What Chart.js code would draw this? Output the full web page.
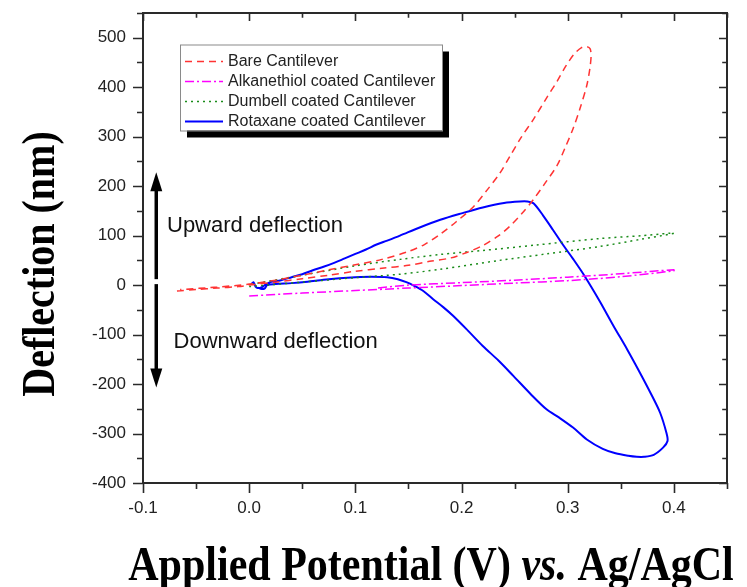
<!DOCTYPE html>
<html>
<head>
<meta charset="utf-8">
<script src="https://cdn.jsdelivr.net/npm/chart.js@4.4.1/dist/chart.umd.min.js"></script>
<style>
  html, body { margin: 0; padding: 0; background: #fff; }
  #wrap { width: 747px; height: 587px; }
</style>
</head>
<body>
<div id="wrap"><canvas id="c" width="747" height="587"></canvas></div>
<script>
// ---- data: deflection (nm) vs applied potential (V vs. Ag/AgCl) ----
const seriesNames = [
  'Bare Cantilever',
  'Alkanethiol coated Cantilever',
  'Dumbell coated Cantilever',
  'Rotaxane coated Cantilever'
];

// bare cantilever: forward sweep (lower branch) then return (upper branch)
const bareX = [-0.068, -0.05, -0.03, -0.01, 0.0, 0.025, 0.05, 0.075, 0.1, 0.125, 0.15, 0.17, 0.19, 0.205, 0.22, 0.235, 0.246, 0.257, 0.268, 0.279, 0.29, 0.298, 0.305, 0.312, 0.318, 0.321, 0.322, 0.321, 0.318,
  0.313, 0.306, 0.298, 0.29, 0.28, 0.268, 0.256, 0.246, 0.236, 0.224, 0.211, 0.195, 0.18, 0.165, 0.15, 0.125, 0.1, 0.075, 0.05, 0.025, 0.0, -0.03, -0.065];
const bareY = [-12, -9, -6, -3, 0, 6, 13, 20, 28, 34, 40, 48, 55, 66, 80, 100, 120, 145, 174, 207, 242, 280, 316, 360, 404, 440, 465, 478, 482,
  480, 467, 442, 412, 378, 336, 298, 262, 226, 192, 158, 128, 103, 82, 68, 52, 41, 31, 20, 10, 2, -4, -9];

// alkanethiol coated
const alkX = [0.0, 0.05, 0.1, 0.15, 0.2, 0.25, 0.3, 0.35, 0.4, 0.4, 0.35, 0.3, 0.25, 0.2, 0.15, 0.12];
const alkY = [-22, -16, -11, -6, -1, 4, 9, 17, 29, 31, 23, 16, 10, 5, 0, -6];

// dumbell coated
const dumX = [0.0, 0.05, 0.1, 0.142, 0.18, 0.236, 0.28, 0.33, 0.37, 0.4, 0.37, 0.33, 0.27, 0.22, 0.18, 0.142, 0.1, 0.05, 0.0];
const dumY = [-3, 6, 15, 22, 32, 50, 63, 78, 93, 105, 100, 94, 81, 70, 62, 52, 39, 20, 1];

// rotaxane coated
const rotX = [0.002, 0.004, 0.006, 0.008, 0.012, 0.016, 0.02, 0.03, 0.04, 0.05, 0.06, 0.07, 0.08, 0.09, 0.1, 0.11, 0.12, 0.13, 0.142, 0.16, 0.18, 0.2, 0.22, 0.24, 0.255, 0.262, 0.268,
  0.277, 0.286, 0.296, 0.305, 0.316, 0.33, 0.343, 0.356, 0.368, 0.378, 0.387, 0.393, 0.394, 0.39, 0.381, 0.372, 0.365, 0.357, 0.345, 0.333, 0.318, 0.305, 0.292, 0.28, 0.265, 0.249, 0.235, 0.22, 0.206, 0.192, 0.183, 0.173, 0.164, 0.155,
  0.148, 0.14, 0.13, 0.115, 0.1, 0.085, 0.07, 0.055, 0.04, 0.025, 0.017, 0.015, 0.012, 0.008];
const rotY = [2, 6, -3, -6, -4, 2, 6, 10, 16, 22, 30, 37, 45, 54, 63, 72, 82, 90, 100, 116, 132, 145, 157, 166, 169, 169, 165,
  140, 112, 80, 53, 18, -32, -82, -130, -177, -218, -258, -299, -315, -328, -343, -347, -347, -345, -340, -331, -312, -288, -268, -251, -220, -184, -153, -123, -92, -62, -45, -28, -12, -1,
  6, 12, 16, 17, 16, 14, 11, 7, 4, 2, 0, -6, -8, -5];

// axis ticks
const xTicks = [-0.1, 0.0, 0.1, 0.2, 0.3, 0.4];
const xMinor = [-0.05, 0.05, 0.15, 0.25, 0.35, 0.45];
const yTicks = [-400, -300, -200, -100, 0, 100, 200, 300, 400, 500];
const yMinor = [-350, -250, -150, -50, 50, 150, 250, 350, 450, 550];

const pts = (xs, ys) => xs.map((x, i) => ({ x: x, y: ys[i] }));

const SANS = "'Liberation Sans', Arial, sans-serif";
const SERIF = "'Liberation Serif', 'Times New Roman', serif";

// frame, tick marks, legend, annotations and axis titles
const decorations = {
  id: 'decorations',
  afterDraw(chart) {
    const ctx = chart.ctx;
    const a = chart.chartArea;
    const xs = chart.scales.x, ys = chart.scales.y;
    ctx.save();

    // frame
    ctx.strokeStyle = '#2a2a2a';
    ctx.lineWidth = 2;
    ctx.strokeRect(a.left, a.top, a.right - a.left, a.bottom - a.top);

    // tick marks: outward on bottom/left, mirrored inward on top/right
    ctx.lineWidth = 1.6;
    ctx.beginPath();
    const xt = (vals, len) => vals.forEach(v => {
      const p = Math.round(xs.getPixelForValue(v)) + 0.5;
      ctx.moveTo(p, a.bottom); ctx.lineTo(p, a.bottom + len);
      ctx.moveTo(p, a.top); ctx.lineTo(p, a.top + len * 0.8);
    });
    const yt = (vals, len) => vals.forEach(v => {
      const p = Math.round(ys.getPixelForValue(v)) + 0.5;
      ctx.moveTo(a.left, p); ctx.lineTo(a.left - len, p);
      ctx.moveTo(a.right, p); ctx.lineTo(a.right - len * 0.8, p);
    });
    xt(xTicks, 10); xt(xMinor, 6);
    yt(yTicks, 10); yt(yMinor, 6);
    ctx.stroke();

    // legend box with drop shadow
    const lx = a.left + 37, ly = a.top + 31.5, lw = 262, lh = 86;
    ctx.fillStyle = '#000';
    ctx.fillRect(lx + 7, ly + 7, lw, lh);
    ctx.fillStyle = '#fff';
    ctx.fillRect(lx, ly, lw, lh);
    ctx.strokeStyle = '#8a8a8a';
    ctx.lineWidth = 1;
    ctx.strokeRect(lx + 0.5, ly + 0.5, lw, lh);
    ctx.font = '16px ' + SANS;
    ctx.textBaseline = 'middle';
    ctx.textAlign = 'left';
    chart.data.datasets.forEach((ds, i) => {
      const ry = ly + 17 + i * 20;
      ctx.strokeStyle = ds.borderColor;
      ctx.lineWidth = ds.borderWidth;
      ctx.setLineDash(ds.borderDash || []);
      ctx.beginPath();
      ctx.moveTo(lx + 5, ry); ctx.lineTo(lx + 43, ry);
      ctx.stroke();
      ctx.setLineDash([]);
      ctx.fillStyle = '#222';
      ctx.fillText(ds.label, lx + 48, ry);
    });

    // double arrow marking the deflection direction
    const ax = xs.getPixelForValue(-0.0875);
    const arrow = (y0, y1) => {
      const p0 = ys.getPixelForValue(y0), p1 = ys.getPixelForValue(y1);
      const dir = p1 < p0 ? -1 : 1;
      ctx.strokeStyle = '#000';
      ctx.lineWidth = 3.5;
      ctx.beginPath();
      ctx.moveTo(ax, p0); ctx.lineTo(ax, p1 - dir * 14);
      ctx.stroke();
      ctx.fillStyle = '#000';
      ctx.beginPath();
      ctx.moveTo(ax, p1);
      ctx.lineTo(ax - 6, p1 - dir * 19);
      ctx.lineTo(ax + 6, p1 - dir * 19);
      ctx.closePath();
      ctx.fill();
    };
    arrow(12, 228);
    arrow(2, -207);

    ctx.fillStyle = '#111';
    ctx.font = '22px ' + SANS;
    ctx.textBaseline = 'middle';
    ctx.fillText('Upward deflection', xs.getPixelForValue(-0.0774), ys.getPixelForValue(120));
    ctx.fillText('Downward deflection', xs.getPixelForValue(-0.0712), ys.getPixelForValue(-115));

    // axis titles
    ctx.fillStyle = '#000';
    ctx.textBaseline = 'alphabetic';
    ctx.textAlign = 'center';
    ctx.save();
    ctx.translate(54, 264);
    ctx.rotate(-Math.PI / 2);
    ctx.scale(1, 1.18);
    ctx.font = 'bold 40px ' + SERIF;
    ctx.fillText('Deflection (nm)', 0, 0);
    ctx.restore();

    ctx.save();
    ctx.translate(0, 580);
    ctx.scale(1, 1.18);
    const parts = [
      ['Applied Potential (V) ', 'bold 42px ' + SERIF],
      ['vs.', 'italic bold 42px ' + SERIF],
      [' Ag/AgCl', 'bold 42px ' + SERIF]
    ];
    let total = 0;
    parts.forEach(p => { ctx.font = p[1]; total += ctx.measureText(p[0]).width; });
    let tx = 431 - total / 2;
    ctx.textAlign = 'left';
    parts.forEach(p => { ctx.font = p[1]; ctx.fillText(p[0], tx, 0); tx += ctx.measureText(p[0]).width; });
    ctx.restore();

    ctx.restore();
  }
};

new Chart(document.getElementById('c'), {
  type: 'scatter',
  data: {
    datasets: [
      { label: seriesNames[0], data: pts(bareX, bareY), borderColor: '#ff3333', borderWidth: 1.5, borderDash: [7, 5] },
      { label: seriesNames[1], data: pts(alkX, alkY), borderColor: '#ff00ff', borderWidth: 1.5, borderDash: [9, 3, 2, 3] },
      { label: seriesNames[2], data: pts(dumX, dumY), borderColor: '#1a8c1a', borderWidth: 1.5, borderDash: [2, 4] },
      { label: seriesNames[3], data: pts(rotX, rotY), borderColor: '#0000ff', borderWidth: 2, borderDash: [] }
    ].map(d => Object.assign(d, { showLine: true, pointRadius: 0, tension: 0.3, fill: false }))
  },
  options: {
    responsive: false,
    devicePixelRatio: 1,
    animation: false,
    layout: { padding: { top: 13, right: 20, left: 0, bottom: 0 } },
    plugins: { legend: { display: false }, tooltip: { enabled: false } },
    scales: {
      x: {
        type: 'linear', min: -0.1, max: 0.45,
        grid: { display: false, drawTicks: false },
        border: { display: false },
        afterBuildTicks: s => { s.ticks = xTicks.map(v => ({ value: v })); },
        afterFit: s => { s.height = 104; s.paddingLeft = 0; s.paddingRight = 0; },
        ticks: { padding: 15, autoSkip: false, maxRotation: 0, color: '#222',
          font: { family: SANS, size: 17 }, callback: v => Number(v).toFixed(1) }
      },
      y: {
        type: 'linear', min: -400, max: 550,
        grid: { display: false, drawTicks: false },
        border: { display: false },
        afterBuildTicks: s => { s.ticks = yTicks.map(v => ({ value: v })); },
        afterFit: s => { s.width = 143; s.paddingTop = 0; s.paddingBottom = 0; },
        ticks: { padding: 17, autoSkip: false, color: '#222',
          font: { family: SANS, size: 17 }, callback: v => String(v) }
      }
    }
  },
  plugins: [decorations]
});
</script>
</body>
</html>
